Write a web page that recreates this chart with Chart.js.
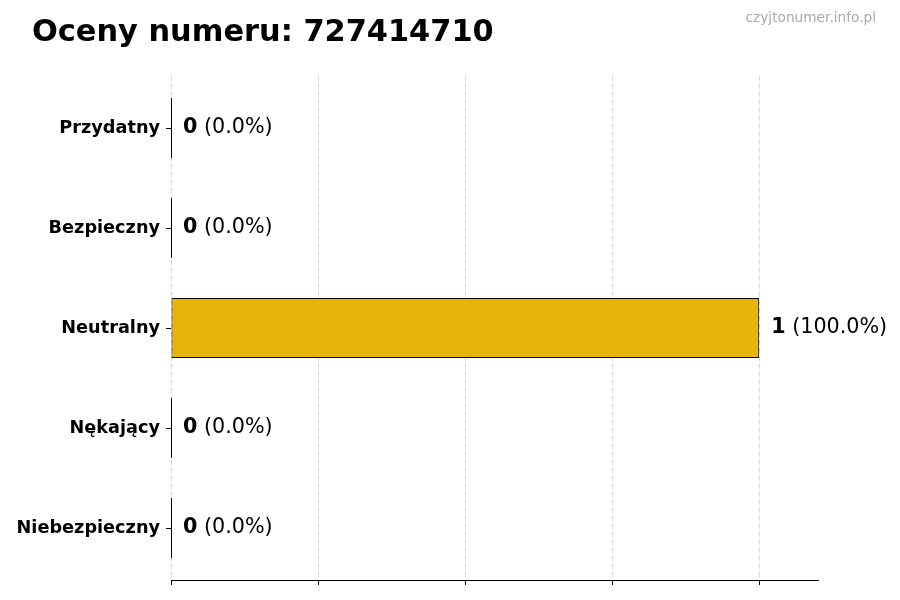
<!DOCTYPE html>
<html>
<head>
<meta charset="utf-8">
<script src="https://cdn.jsdelivr.net/npm/chart.js@4/dist/chart.umd.min.js"></script>
<style>
  html, body { margin: 0; padding: 0; background: #fff; }
  #wrap { width: 900px; height: 600px; }
</style>
</head>
<body>
<div id="wrap"><canvas id="ratingsChart" width="900" height="600"></canvas></div>
<script>
// chart data
const categories = ['Przydatny', 'Bezpieczny', 'Neutralny', 'Nękający', 'Niebezpieczny'];
const counts = [0, 0, 1, 0, 0];
const percents = [0.0, 0.0, 100.0, 0.0, 0.0];
const gridValues = [0, 0.25, 0.5, 0.75, 1];
const xMax = 1.1;

const FONT = "'DejaVu Sans', sans-serif";

// draws title, watermark, value labels and the outline of empty bars
const decorPlugin = {
    id: 'decor',
    afterDatasetsDraw(chart) {
        const ctx = chart.ctx;
        const meta = chart.getDatasetMeta(0);
        const xScale = chart.scales.x;
        ctx.save();
        meta.data.forEach((bar, i) => {
            // zero-width bars still show their edge
            if (counts[i] === 0) {
                ctx.strokeStyle = '#000';
                ctx.lineWidth = 1;
                ctx.beginPath();
                ctx.moveTo(bar.x + 0.5, bar.y - bar.height / 2);
                ctx.lineTo(bar.x + 0.5, bar.y + bar.height / 2);
                ctx.stroke();
            }
            const x = xScale.getPixelForValue(counts[i]) + 12;
            ctx.textBaseline = 'middle';
            ctx.textAlign = 'left';
            ctx.fillStyle = '#000';
            ctx.font = 'bold 20.7px ' + FONT;
            const num = String(counts[i]);
            ctx.fillText(num, x, bar.y);
            const w = ctx.measureText(num).width;
            ctx.font = '20.7px ' + FONT;
            ctx.fillText(' (' + percents[i].toFixed(1) + '%)', x + w, bar.y);
        });
        ctx.restore();
    },
    afterDraw(chart) {
        const ctx = chart.ctx;
        ctx.save();
        ctx.textBaseline = 'alphabetic';
        ctx.fillStyle = '#000';
        ctx.font = 'bold 30.4px ' + FONT;
        ctx.textAlign = 'left';
        ctx.fillText('Oceny numeru: 727414710', 32, 41);
        ctx.fillStyle = '#aaaaaa';
        ctx.font = '13.7px ' + FONT;
        ctx.textAlign = 'right';
        ctx.fillText('czyjtonumer.info.pl', 876, 22);
        ctx.restore();
    }
};

const ctx = document.getElementById('ratingsChart').getContext('2d');
const chart = new Chart(ctx, {
    type: 'bar',
    data: {
        datasets: [{
            data: counts.map((c, i) => ({ x: c, y: i })),
            backgroundColor: '#E8B408',
            borderColor: '#000',
            borderWidth: 1,
            borderSkipped: false,
            barPercentage: 0.6,
            categoryPercentage: 1.0
        }]
    },
    options: {
        indexAxis: 'y',
        responsive: false,
        animation: false,
        devicePixelRatio: 1,
        layout: { padding: { top: 76, right: 82, bottom: 0, left: 10 } },
        plugins: {
            legend: { display: false },
            tooltip: { enabled: false }
        },
        scales: {
            x: {
                type: 'linear',
                min: 0,
                max: xMax,
                z: 1,
                afterBuildTicks: (scale) => {
                    scale.ticks = gridValues.map(v => ({ value: v }));
                },
                afterFit: (scale) => { scale.height = 20; },
                ticks: { display: false },
                grid: {
                    color: 'rgba(190,190,190,0.6)',
                    lineWidth: 1,
                    drawTicks: true,
                    tickLength: 5,
                    tickColor: '#000'
                },
                border: { display: true, color: '#000', width: 1, dash: [5, 3] }
            },
            y: {
                type: 'linear',
                reverse: true,
                min: -0.52,
                max: categories.length - 1 + 0.52,
                offset: false,
                afterBuildTicks: (scale) => {
                    scale.ticks = categories.map((c, i) => ({ value: i }));
                },
                afterFit: (scale) => { scale.width = 161; },
                ticks: {
                    color: '#000',
                    padding: 6,
                    font: { family: FONT, size: 17.7, weight: 'bold' },
                    callback: (value) => categories[value]
                },
                grid: {
                    display: true,
                    offset: false,
                    drawOnChartArea: false,
                    drawTicks: true,
                    tickLength: 5,
                    tickColor: '#000'
                },
                border: { display: false }
            }
        }
    },
    plugins: [decorPlugin]
});
</script>
</body>
</html>
